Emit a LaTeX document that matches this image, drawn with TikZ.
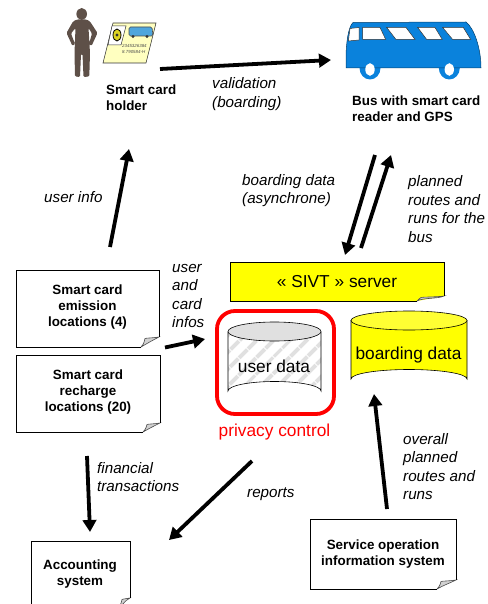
\documentclass[tikz,border=0pt]{standalone}
\usepackage{fontspec}
\setmainfont{Liberation Sans}
\usetikzlibrary{arrows.meta,patterns.meta}
\definecolor{busblue}{HTML}{0A82DC}
\definecolor{cardblue}{HTML}{4FA6DC}
\definecolor{manbrown}{HTML}{5E5048}
\definecolor{sivtyellow}{HTML}{FFFF00}
\definecolor{liteyellow}{HTML}{FFFF33}
\definecolor{cardyellow}{HTML}{FFFFC0}
\tikzset{
  flow/.style={line width=3.8pt,-{Triangle[length=12pt,width=13.5pt]},black},
  boxlabel/.style={font=\bfseries\fontsize{13.4}{16}\selectfont,align=center,inner sep=0pt},
  sidebold/.style={font=\bfseries\fontsize{13.4}{16}\selectfont,align=left,anchor=west,inner sep=0pt},
  note/.style={font=\itshape\fontsize{15.2}{18.4}\selectfont,align=left,anchor=west,inner sep=0pt},
  big/.style={font=\fontsize{17.3}{20}\selectfont,inner sep=0pt},
  outline/.style={draw=black,line width=0.8pt},
  foldcol/.style={draw=black!70,line width=0.6pt,fill=black!18},
}
% x1 y1 x2 y2 (box), foldx, foldy, fill
\newcommand{\notepaper}[7]{%
  \fill[#7] (#1,#2) -- (#3,#2) -- (#3,#6) -- (#5,#4) -- (#1,#4) -- cycle;
  \draw[foldcol] (#3,#6) .. controls ({#3-6},{#6+1}) and ({#5+5},{#6+1}) .. ({#5+4},{#6+1.5}) .. controls ({#5+3},{#4-3}) and ({#5+1},{#4-1}) .. (#5,#4) .. controls ({#5+6},{#4-3.5}) and ({#3-6},{#6+3}) .. (#3,#6) -- cycle;
  \draw[outline] (#5,#4) -- (#1,#4) -- (#1,#2) -- (#3,#2) -- (#3,#6);
}
\begin{document}
\begin{tikzpicture}[x=1pt,y=-1pt]
\useasboundingbox (0,0) rectangle (487,604);
% person
\fill[manbrown] (81.7,14) circle[x radius=5.3,y radius=6];
\fill[manbrown,rounded corners=1.2pt] (77,19.5) -- (86.5,19.5) -- (90,21.5) -- (97.5,33) -- (91.5,46) -- (89,44) -- (92,33.5) -- (88.5,28)
  -- (90,53) -- (89.3,76.5) -- (83.5,77) -- (82.5,54) -- (81,54) -- (80,77) -- (75,76.5) -- (74.5,53) -- (75.5,28) -- (71,33.5) -- (75,44) -- (72.5,46) -- (66.5,33) -- (73,21.5) -- cycle;
% card
\draw[fill=cardyellow,draw=black!80,line width=0.6pt] (113,23) -- (156,23) -- (146,63) -- (103,63) -- cycle;
\draw[fill=white,draw=black!80,line width=0.5pt] (112,26) -- (126,26) -- (121,45) -- (108,45) -- cycle;
\draw[fill=yellow!85!black,draw=black,line width=0.8pt] (117,35) circle[x radius=4,y radius=6];
\fill[black!80] (117,35) circle[radius=1.6];
\fill[cardblue,rounded corners=1.5pt] (129,27) -- (152,27) -- (153,36) -- (129,36) -- cycle;
\draw[black!70,line width=0.6pt,rounded corners=1.5pt] (129,27) -- (152,27) -- (153,36) -- (129,36) -- cycle;
\fill[black!80] (133,36.5) circle[radius=1.6] (147,36.5) circle[radius=1.6];
\node[inner sep=0pt,font=\itshape\fontsize{4.4}{6}\selectfont,align=left,anchor=west,text=black!70] (cardtext) at (122,48.5) {2345326384\\8.790584-H};
% bus
\fill[busblue] (370,68) circle[x radius=10.5,y radius=11.5] (449.3,68) circle[x radius=10.5,y radius=11.5];
\draw[fill=busblue,draw=black!50!busblue,line width=0.5pt] (346,68) -- (346,58) .. controls (346,45) and (348,27) .. (353,22.5) -- (466,22) .. controls (474,28) and (481,48) .. (481,68) -- cycle;
\fill[white] (370,69.5) circle[x radius=4.7,y radius=6.3] (449.3,69.5) circle[x radius=4.7,y radius=6.3];
\foreach \p in {{(348.3,41) -- (350,28.5) -- (359,27.5) -- (359,40) -- cycle},
  {(362.7,27.5) -- (380,27.5) -- (385.7,39.5) -- (362.7,39.5) -- cycle},
  {(386.7,27.5) -- (406,27.5) -- (415,39.5) -- (396,39.5) -- cycle},
  {(417.7,27.5) -- (435,27.5) -- (442.3,39.5) -- (426.7,39.5) -- cycle},
  {(442.7,27.5) -- (463.3,27.5) -- (470.7,39.5) -- (452.7,39.5) -- cycle}}
  \draw[fill=white,draw=black!80,line width=0.5pt] \p;
% notes
\notepaper{16}{270}{159}{347}{141}{337}{white}
\notepaper{16}{355}{160}{432}{143}{423}{white}
\notepaper{230}{262}{444}{301}{417}{296}{sivtyellow}
\notepaper{310}{519}{456}{589}{437}{580}{white}
\notepaper{31}{541}{130}{608}{118}{598}{white}
\node[boxlabel] (emission) at (87.5,307) {Smart card\\emission\\locations (4)};
\node[boxlabel] (recharge) at (88,392) {Smart card\\recharge\\locations (20)};
\node[big] (sivt) at (337,282) {« SIVT » server};
\node[boxlabel] (service) at (383,554) {Service operation\\information system};
\node[boxlabel] (accounting) at (80,574) {Accounting\\system};
% user data cylinder
\path[pattern={Lines[angle=45,distance=13pt,line width=4.5pt]},pattern color=black!12] (228,331.5) -- (228,391) arc[start angle=180,end angle=360,x radius=46.5,y radius=9.5] -- (321,331.5) -- cycle;
\draw[black,line width=0.6pt] (228,331.5) -- (228,391) arc[start angle=180,end angle=360,x radius=46.5,y radius=9.5] -- (321,331.5);
\draw[fill=black!12,draw=black,line width=0.6pt] (274.5,331.5) circle[x radius=46.5,y radius=9.5];
\node[big] (userdata) at (274,366.5) {user data};
% boarding data cylinder
\draw[fill=sivtyellow,draw=black,line width=0.6pt] (351,320.5) -- (351,379) arc[start angle=180,end angle=360,x radius=58,y radius=9.5] -- (467,320.5) -- cycle;
\draw[fill=liteyellow,draw=black,line width=0.6pt] (409,320.5) circle[x radius=58,y radius=9.5];
\node[big] (boarding) at (408.5,355.5) {boarding data};
% privacy
\draw[red,line width=3.8pt,rounded corners=18pt] (217,311) rectangle (334,414);
\node[big,text=red] (privacy) at (274.5,432) {privacy control};
% side labels
\node[sidebold] (holder) at (106,98) {Smart card\\holder};
\node[sidebold] (bus) at (352,109) {Bus with smart card\\reader and GPS};
\node[note] (lvalid) at (212,94) {validation\\(boarding)};
\node[note] (lboard) at (242,190.5) {boarding data\\(asynchrone)};
\node[note] (lplanned) at (408,209) {planned\\routes and\\runs for the\\bus};
\node[note] (luser) at (44,197.5) {user info};
\node[note] (lcard) at (172,296) {user\\and\\card\\infos};
\node[note] (lfin) at (97,477) {financial\\transactions};
\node[note] (lrep) at (247,494.5) {reports};
\node[note] (lover) at (403,466.5) {overall\\planned\\routes and\\runs};
% connector ends
\coordinate (cardend) at (160,69);
\coordinate (busend) at (331,60);
\coordinate (busdown) at (375,155);
\coordinate (srvin) at (345,255);
\coordinate (srvout) at (361,248);
\coordinate (busup) at (391,155);
\coordinate (emitup) at (110,247);
\coordinate (holderin) at (129,149);
\coordinate (emitout) at (165,347.5);
\coordinate (udin) at (205,339);
\coordinate (rechout) at (87,456);
\coordinate (accin) at (90,532);
\coordinate (udout) at (252,461);
\coordinate (accin2) at (169,540);
\coordinate (svcout) at (387,509);
\coordinate (bdin) at (374,394);
\draw[flow] (cardend) -- (busend);
\draw[flow] (busdown) -- (srvin);
\draw[flow] (srvout) -- (busup);
\draw[flow] (emitup) -- (holderin);
\draw[flow] (emitout) -- (udin);
\draw[flow] (rechout) -- (accin);
\draw[flow] (udout) -- (accin2);
\draw[flow] (svcout) -- (bdin);
\end{tikzpicture}
\end{document}
